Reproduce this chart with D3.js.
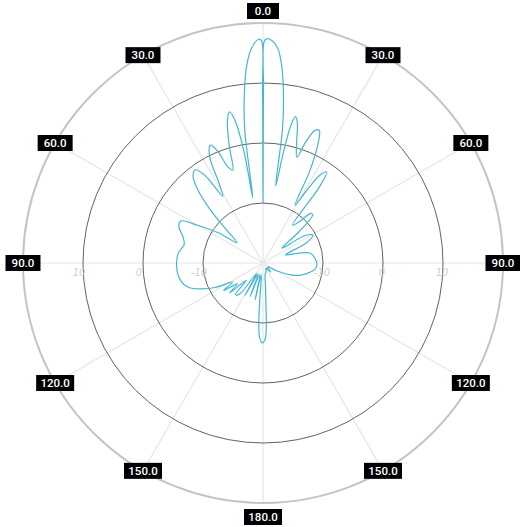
<!DOCTYPE html>
<html>
<head>
<meta charset="utf-8">
<script src="https://cdn.jsdelivr.net/npm/d3@7"></script>
<style>
  html, body { margin: 0; padding: 0; background: #ffffff; }
  svg { display: block; }
</style>
</head>
<body>
<svg id="chart" width="520" height="527"></svg>
<script>
// ---- data ----
const angleTicks = [0, 30, 60, 90, 120, 150, 180, 210, 240, 270, 300, 330];
const angleTickLabels = ["0.0", "30.0", "60.0", "90.0", "120.0", "150.0", "180.0", "150.0", "120.0", "90.0", "60.0", "30.0"];
const radialTicks = [-10, 0, 10];
const radialTickLabels = ["-10", "0", "10"];
const radialDomain = [-20, 20];

// pattern: angle (deg, clockwise from top) and gain (dB)
const patternAngles = [
  0, 0.15, 0.35, 1.1, 2.5, 4, 5.5, 7, 8.3, 9.3, 10.5, 11.5, 12.5, 13.8, 15.5, 17.8, 19.5, 21.5, 23, 25, 27,
  29, 31, 33, 35, 36.5, 38, 41, 44, 46, 49, 52, 57, 61, 65, 70, 72, 78, 85, 92, 97,
  101, 106, 112, 120, 130, 140, 150, 160, 170, 174, 176, 177, 178.5, 180.5, 182.5, 184, 185, 186, 189, 192,
  196, 201, 204, 209, 212, 217, 221, 224, 228, 231, 235, 238, 243, 247, 251, 255, 262, 270, 277, 283,
  288, 293, 297, 300, 304, 308, 312, 315, 318, 321, 324, 326.5, 329, 331, 333.5, 336, 338, 340, 342, 344,
  346, 347.5, 349, 350.3, 351.1, 352.2, 353.6, 355.2, 356.9, 358.9, 359.65, 359.85
];
const patternGains = [
  -10, 9, 17, 17.4, 17, 15.8, 12.8, 8, 2.5, -7, -1, 3.5, 5, 4, 1, -1.5, 1.5, 3.8, 4, 1.5, -3,
  -9, -6, -2.5, -1.5, -4, -12, -11, -8.5, -8.5, -12, -16, -11.5, -10.5, -12, -16, -15.5, -12, -11.3, -11, -11.3,
  -12, -13, -14.5, -17.5, -19, -18, -19, -18.5, -18, -16, -13, -9.5, -7.2, -6.7, -7.5, -10, -14, -17, -18, -13.7,
  -18, -14, -18, -13.8, -18, -13.5, -13, -16, -12.5, -14.5, -12, -14, -11, -9, -7.2, -6.3, -5.7, -5.6, -5.8, -6.5,
  -6, -4.8, -4.6, -7.5, -11, -14.5, -12, -8, -4, -1.5, -0.8, -2.5, -7, -5, 0, 1.5, 0, -3, -3.7, 0.5,
  4.5, 5.8, 4, -1, -9, 2.5, 8, 12.8, 15.8, 17.3, 17, 9
];
const pattern = patternAngles.map((a, i) => ({ angle: a, gain: patternGains[i] }));

// ---- layout ----
const cx = 263, cy = 263;
const R = 240;

const svg = d3.select("#chart");
const g = svg.append("g").attr("transform", `translate(${cx},${cy})`);

const r = d3.scaleLinear().domain(radialDomain).range([0, R]);
const toRad = d => d * Math.PI / 180;

// spokes
g.append("g").selectAll("line")
  .data(angleTicks)
  .join("line")
  .attr("x1", 0).attr("y1", 0)
  .attr("x2", d => R * Math.sin(toRad(d)))
  .attr("y2", d => -R * Math.cos(toRad(d)))
  .attr("stroke", "#e6e6e6")
  .attr("stroke-width", 1.2);

// inner rings
g.append("g").selectAll("circle")
  .data(radialTicks)
  .join("circle")
  .attr("r", d => r(d))
  .attr("fill", "none")
  .attr("stroke", "#626262")
  .attr("stroke-width", 1);

// outer ring
g.append("circle")
  .attr("r", r(radialDomain[1]))
  .attr("fill", "none")
  .attr("stroke", "#c4c4c4")
  .attr("stroke-width", 2);

// radial tick labels along horizontal axis, both sides
const rtl = g.append("g")
  .attr("font-family", "DejaVu Sans, sans-serif")
  .attr("font-size", 10)
  .attr("font-style", "italic")
  .attr("fill", "#cfcfcf");
radialTicks.forEach((t, i) => {
  rtl.append("text").attr("x", r(t) - 1).attr("y", 13)
    .attr("text-anchor", "middle").text(radialTickLabels[i]);
  rtl.append("text").attr("x", -r(t) - 4).attr("y", 13)
    .attr("text-anchor", "middle").text(radialTickLabels[i]);
});

// pattern curve
const line = d3.lineRadial()
  .angle(d => toRad(d.angle))
  .radius(d => r(d.gain))
  .curve(d3.curveCatmullRomClosed.alpha(0.5));

g.append("path")
  .datum(pattern)
  .attr("d", line)
  .attr("fill", "none")
  .attr("stroke", "#45b6d2")
  .attr("stroke-width", 1.2)
  .attr("stroke-linejoin", "round");

// angle labels
const al = g.append("g");
angleTicks.forEach((a, i) => {
  let lr = R;
  if (a === 0) lr = R + 12;
  if (a === 180) lr = R + 14;
  const x = lr * Math.sin(toRad(a));
  const y = -lr * Math.cos(toRad(a));
  const label = angleTickLabels[i];
  const w = 23 + 3 * label.length;
  const grp = al.append("g").attr("transform", `translate(${x},${y})`);
  grp.append("rect")
    .attr("x", -w / 2).attr("y", -8)
    .attr("width", w).attr("height", 16)
    .attr("fill", "#000");
  grp.append("text")
    .attr("x", 0).attr("y", 4)
    .attr("text-anchor", "middle")
    .attr("font-family", "Roboto, sans-serif")
    .attr("font-weight", 500)
    .attr("font-size", 11.5)
    .attr("fill", "#fff")
    .text(label);
});
</script>
</body>
</html>
